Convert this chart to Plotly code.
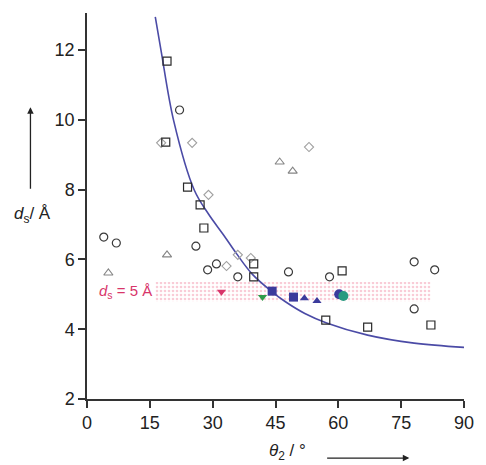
import plotly.graph_objects as go

# ---- data ----
sq_x = [19.1, 18.8, 24.0, 27.0, 27.9, 39.8, 39.8, 60.9, 57.0, 67.0, 82.1]
sq_y = [11.68, 9.36, 8.07, 7.56, 6.90, 5.87, 5.50, 5.67, 4.26, 4.06, 4.12]

ci_x = [22.1, 4.0, 7.0, 26.0, 28.8, 30.9, 36.0, 48.1, 57.9, 78.1, 83.0, 78.1]
ci_y = [10.28, 6.64, 6.47, 6.38, 5.70, 5.87, 5.50, 5.64, 5.50, 5.93, 5.70, 4.58]

di_x = [17.7, 25.1, 29.0, 33.3, 36.0, 39.1, 53.0]
di_y = [9.34, 9.34, 7.85, 5.81, 6.13, 6.04, 9.22]

tr_x = [5.1, 19.1, 46.0, 49.1]
tr_y = [5.61, 6.13, 8.79, 8.53]

pink_x = [32.1]
pink_y = [5.07]
green_x = [41.9]
green_y = [4.92]
bsq_x = [44.2, 49.3]
bsq_y = [5.09, 4.92]
btr_x = [51.9, 54.9]
btr_y = [4.89, 4.81]
bci_x = [60.2]
bci_y = [5.00]
tci_x = [61.2]
tci_y = [4.95]

curve_x = [16.3, 17.7, 20.7, 25.6, 29.0, 32.6, 35.6, 39.5, 44.2, 47.2, 52.0, 57.2, 67.0, 78.1, 90.0]
curve_y = [12.95, 11.97, 9.97, 7.99, 7.30, 6.70, 6.18, 5.57, 5.07, 4.80, 4.45, 4.18, 3.83, 3.60, 3.48]

band_x = [16.3, 82.1, 82.1, 16.3]
band_y = [4.78, 4.78, 5.35, 5.35]

x_ticks = [0, 15, 30, 45, 60, 75, 90]
y_ticks = [2, 4, 6, 8, 10, 12]

fig = go.Figure()

fig.add_trace(go.Scatter(
    x=band_x, y=band_y, mode="lines", fill="toself",
    line=dict(width=0), fillcolor="rgba(0,0,0,0)",
    fillpattern=dict(shape=".", fgcolor="#f39ab0", bgcolor="white", size=4, solidity=0.35),
    hoverinfo="skip"))

fig.add_trace(go.Scatter(x=curve_x, y=curve_y, mode="lines", line_shape="spline",
                         line=dict(color="#4b4ba6", width=1.6, smoothing=1.0)))

fig.add_trace(go.Scatter(x=di_x, y=di_y, mode="markers",
                         marker=dict(symbol="diamond-open", size=7, color="#a0a0a0", line=dict(width=1.1))))
fig.add_trace(go.Scatter(x=tr_x, y=tr_y, mode="markers",
                         marker=dict(symbol="triangle-up-open", size=8, color="#858585", line=dict(width=1.1))))
fig.add_trace(go.Scatter(x=ci_x, y=ci_y, mode="markers",
                         marker=dict(symbol="circle-open", size=8, color="#3a3a3a", line=dict(width=1.2))))
fig.add_trace(go.Scatter(x=sq_x, y=sq_y, mode="markers",
                         marker=dict(symbol="square-open", size=8, color="#2a2a2a", line=dict(width=1.2))))

fig.add_trace(go.Scatter(x=pink_x, y=pink_y, mode="markers",
                         marker=dict(symbol="triangle-down", size=8, color="#d8356a")))
fig.add_trace(go.Scatter(x=green_x, y=green_y, mode="markers",
                         marker=dict(symbol="triangle-down", size=8, color="#2f9a48")))
fig.add_trace(go.Scatter(x=bsq_x, y=bsq_y, mode="markers",
                         marker=dict(symbol="square", size=9, color="#3b3b9c")))
fig.add_trace(go.Scatter(x=btr_x, y=btr_y, mode="markers",
                         marker=dict(symbol="triangle-up", size=8, color="#3b3b9c")))
fig.add_trace(go.Scatter(x=bci_x, y=bci_y, mode="markers",
                         marker=dict(symbol="circle", size=10, color="#3b3b9c")))
fig.add_trace(go.Scatter(x=tci_x, y=tci_y, mode="markers",
                         marker=dict(symbol="circle", size=10, color="#2a9a80")))

axis_font = dict(family="Liberation Sans, Arial, sans-serif", size=18, color="#222")

fig.update_layout(
    width=486, height=465,
    margin=dict(l=87, r=12, t=13, b=66),
    plot_bgcolor="white", paper_bgcolor="white",
    showlegend=False,
    xaxis=dict(range=[0, 90], tickvals=x_ticks, showgrid=False, zeroline=False,
               showline=True, linecolor="#333", linewidth=1.5,
               ticks="outside", ticklen=7, tickwidth=1.5, tickcolor="#333",
               tickfont=axis_font),
    yaxis=dict(range=[2, 13.06], tickvals=y_ticks, showgrid=False, zeroline=False,
               showline=True, linecolor="#333", linewidth=1.5,
               ticks="outside", ticklen=7, tickwidth=1.5, tickcolor="#333",
               tickfont=axis_font),
)

txt_font = dict(family="Liberation Sans, Arial, sans-serif", size=17, color="#222")

fig.add_annotation(x=9.1, y=5.07, xref="x", yref="y", showarrow=False,
                   xanchor="center", yanchor="middle",
                   text="<i>d</i><sub>s</sub> = 5 Å",
                   font=dict(family="Liberation Sans, Arial, sans-serif", size=15, color="#d8356a"))

fig.add_annotation(x=-0.145, y=0.477, xref="paper", yref="paper", showarrow=False,
                   xanchor="center", yanchor="middle",
                   text="<i>d</i><sub>s</sub>/ Å", font=txt_font)
fig.add_annotation(x=-0.150, y=0.756, xref="x domain", yref="y domain",
                   ax=-0.150, ay=0.541, axref="x domain", ayref="y domain",
                   showarrow=True, arrowhead=2, arrowsize=1, arrowwidth=1.3,
                   arrowcolor="#222", text="")

fig.add_annotation(x=0.532, y=-0.138, xref="paper", yref="paper", showarrow=False,
                   xanchor="center", yanchor="middle",
                   text="<i>θ</i><sub>2</sub> / °", font=txt_font)
fig.add_annotation(x=0.855, y=-0.153, xref="x domain", yref="y domain",
                   ax=0.633, ay=-0.153, axref="x domain", ayref="y domain",
                   showarrow=True, arrowhead=2, arrowsize=1, arrowwidth=1.3,
                   arrowcolor="#222", text="")

fig.write_html("out.html")
